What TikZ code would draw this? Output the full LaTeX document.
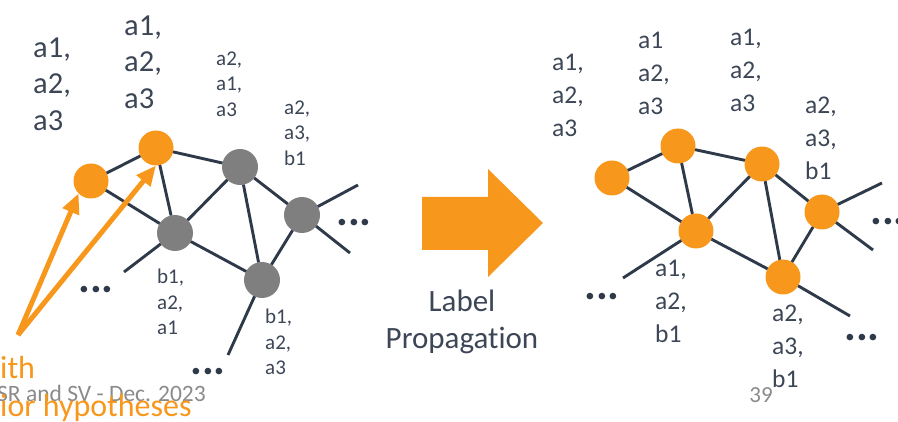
\documentclass[tikz,border=0pt]{standalone}
\usepackage{fontspec}
\setmainfont{Carlito}[Ligatures=NoCommon]
\usetikzlibrary{arrows.meta}
\definecolor{orng}{HTML}{F7981D}
\definecolor{gnode}{HTML}{7F7F7F}
\definecolor{edgec}{HTML}{2E3A4A}
\definecolor{txtc}{HTML}{3C4656}
\definecolor{footc}{HTML}{8A8A8A}
\tikzset{
  onode/.style={circle,fill=orng,minimum size=35pt,inner sep=0pt,outer sep=0pt},
  gnodest/.style={circle,fill=gnode,minimum size=36pt,inner sep=0pt,outer sep=0pt},
  edge/.style={draw=edgec,line width=2.9pt},
  lblbig/.style={anchor=west,inner sep=0pt,align=left,text=txtc,font=\fontsize{30.5}{36.5}\selectfont},
  lblsmall/.style={anchor=west,inner sep=0pt,align=left,text=txtc,font=\fontsize{21}{25.5}\selectfont},
  lblmid/.style={anchor=west,inner sep=0pt,align=left,text=txtc,font=\fontsize{25.5}{33}\selectfont},
  dotsst/.style={inner sep=0pt,text=edgec,font=\fontsize{44}{44}\bfseries\selectfont},
  hyparrow/.style={draw=orng,line width=5pt,-{Triangle[length=20pt,width=17pt]}}
}
\begin{document}
\begin{tikzpicture}[x=1pt,y=-1pt]
\useasboundingbox (0,0) rectangle (898,422);
% ---------- left graph ----------
\node[onode] (O1) at (91,181) {};
\node[onode] (O2) at (156,148) {};
\node[gnodest] (G1) at (240,167) {};
\node[gnodest] (G2) at (302,215) {};
\node[gnodest] (G3) at (175,233) {};
\node[gnodest] (G4) at (262,280) {};
\coordinate (e1) at (358,185);
\coordinate (e2) at (350,253);
\coordinate (e3) at (124,272);
\coordinate (e4) at (228,355);
\draw[edge] (O1) -- (O2);
\draw[edge] (O1) -- (G3);
\draw[edge] (O2) -- (G1);
\draw[edge] (O2) -- (G3);
\draw[edge] (G1) -- (G3);
\draw[edge] (G1) -- (G4);
\draw[edge] (G1) -- (G2);
\draw[edge] (G2) -- (G4);
\draw[edge] (G3) -- (G4);
\draw[edge] (G2) -- (e1);
\draw[edge] (G2) -- (e2);
\draw[edge] (G3) -- (e3);
\draw[edge] (G4) -- (e4);
\node[dotsst] (d1) at (96,290) {...};
\node[dotsst] (d2) at (354,223) {...};
\node[dotsst] (d3) at (208,372) {...};
\node[lblbig] (l1) at (33,84) {a1,\\a2,\\a3};
\node[lblbig] (l2) at (124,62) {a1,\\a2,\\a3};
\node[lblsmall] (l3) at (216,84) {a2,\\a1,\\a3};
\node[lblsmall] (l4) at (284,133) {a2,\\a3,\\b1};
\node[lblsmall] (l5) at (157,302) {b1,\\a2,\\a1};
\node[lblsmall] (l6) at (265,342) {b1,\\a2,\\a3};
% orange hypothesis arrows
\coordinate (src) at (18,335);
\draw[hyparrow] (src) -- (O1.south west);
\draw[hyparrow] (src) -- (O2.south);
\node[anchor=west,inner sep=0pt,text=orng,font=\fontsize{32}{32}\selectfont] (t1) at (0,368) {ith};
\node[anchor=west,inner sep=0pt,text=footc,font=\fontsize{23.5}{23.5}\selectfont] (foot) at (-3,393) {SR and SV - Dec. 2023};
\node[anchor=west,inner sep=0pt,text=orng,font=\fontsize{32}{32}\selectfont] (t2) at (0,408) {ior hypotheses};
% ---------- middle arrow ----------
\fill[orng] (422,197) -- (488,197) -- (488,169) -- (543,223) -- (488,277) -- (488,250) -- (422,250) -- cycle;
\node[inner sep=0pt,align=center,text=txtc,font=\fontsize{31}{37}\selectfont] (lp) at (462,322) {Label\\Propagation};
% ---------- right graph ----------
\node[onode] (R1) at (612,178) {};
\node[onode] (R2) at (678,146) {};
\node[onode] (R3) at (762,164) {};
\node[onode] (R4) at (822,212) {};
\node[onode] (R5) at (696,231) {};
\node[onode] (R6) at (783,277) {};
\coordinate (f1) at (882,183);
\coordinate (f2) at (873,250);
\coordinate (f3) at (623,278);
\coordinate (f4) at (850,316);
\draw[edge] (R1) -- (R2);
\draw[edge] (R1) -- (R5);
\draw[edge] (R2) -- (R3);
\draw[edge] (R2) -- (R5);
\draw[edge] (R3) -- (R5);
\draw[edge] (R3) -- (R6);
\draw[edge] (R3) -- (R4);
\draw[edge] (R4) -- (R6);
\draw[edge] (R5) -- (R6);
\draw[edge] (R4) -- (f1);
\draw[edge] (R4) -- (f2);
\draw[edge] (R5) -- (f3);
\draw[edge] (R6) -- (f4);
\node[dotsst] (d4) at (602,297) {...};
\node[dotsst] (d5) at (862,338) {...};
\node[dotsst] (d6) at (888,222) {...};
\node[lblmid] (r1) at (552,95) {a1,\\a2,\\a3};
\node[lblmid] (r2) at (638,73) {a1\\a2,\\a3};
\node[lblmid] (r3) at (730,70) {a1,\\a2,\\a3};
\node[lblmid] (r4) at (805,138) {a2,\\a3,\\b1};
\node[lblmid] (r5) at (655,301) {a1,\\a2,\\b1};
\node[lblmid] (r6) at (772,346) {a2,\\a3,\\b1};
\node[inner sep=0pt,text=footc,font=\fontsize{23}{23}\selectfont] (pg) at (761,395) {39};
\end{tikzpicture}
\end{document}
